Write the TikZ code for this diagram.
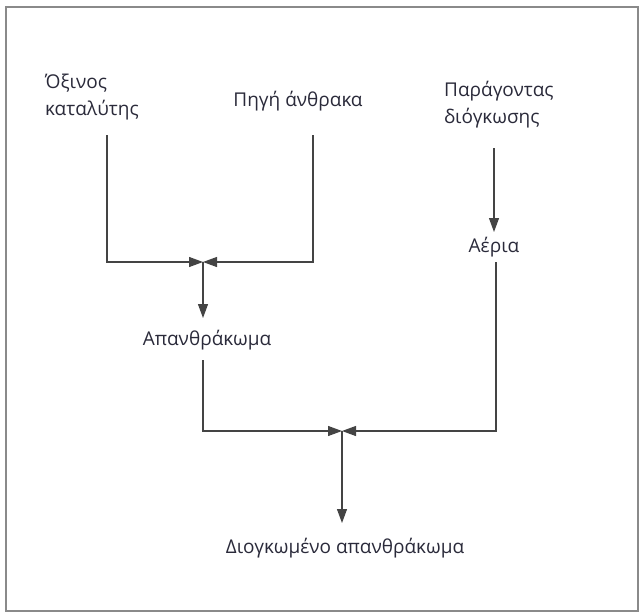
\documentclass[tikz,border=0pt]{standalone}
\usepackage{fontspec}
\setmainfont{Open Sans}
\usetikzlibrary{arrows.meta}
\definecolor{linec}{HTML}{444444}
\definecolor{framec}{HTML}{8A8A8A}
\definecolor{textc}{HTML}{2A2A3A}
\begin{document}
\begin{tikzpicture}[x=1pt,y=-1pt,
  lbl/.style={font=\fontsize{19}{27}\selectfont, text=textc, inner sep=1pt, align=left},
  conn/.style={draw=linec, line width=1.1pt},
  tip/.style={-{Triangle[length=14pt,width=10pt]}}]
\useasboundingbox (0,0) rectangle (639,613);
\draw[framec, line width=1.6pt] (6,7) rectangle (638,611);
% nodes
\node[lbl, anchor=west] (acid) at (44,97) {Όξινος\\καταλύτης};
\node[lbl] (carbon) at (298,101) {Πηγή άνθρακα};
\node[lbl, anchor=west] (blow) at (443,105) {Παράγοντας\\διόγκωσης};
\node[lbl] (gas) at (494,247) {Αέρια};
\node[lbl] (char) at (207,340) {Απανθράκωμα};
\node[lbl] (final) at (345,548) {Διογκωμένο απανθράκωμα};
% junction coordinates
\coordinate (j1) at (203,262);
\coordinate (j2) at (342,431);
\coordinate (a1) at (107,135);
\coordinate (c1) at (313,135);
\coordinate (b1) at (494,148);
\coordinate (ch1) at (203,360);
\coordinate (g1) at (496,262);
% connectors
\draw[conn, tip] (a1) |- (j1);
\draw[conn, tip] (c1) |- (j1);
\draw[conn, tip] (j1) -- (203,318) coordinate (ch0);
\draw[conn, tip] (b1) -- (494,232) coordinate (g0);
\draw[conn, tip] (ch1) |- (j2);
\draw[conn, tip] (g1) |- (j2);
\draw[conn, tip] (j2) -- (342,523) coordinate (f0);
\end{tikzpicture}
\end{document}
